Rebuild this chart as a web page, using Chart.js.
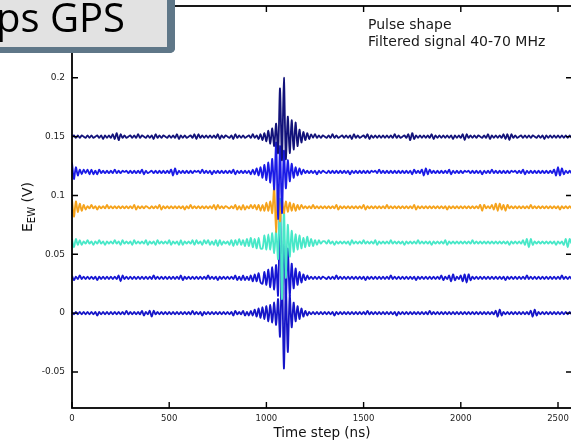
<!DOCTYPE html>
<html>
<head>
<meta charset="utf-8">
<script src="https://cdn.jsdelivr.net/npm/chart.js@4.4.0/dist/chart.umd.min.js"></script>
<style>
  html, body { margin: 0; padding: 0; background: #fff; overflow: hidden; }
  #wrap { position: relative; width: 600px; height: 444px; }
  #chart { position: absolute; left: 0; top: 0; }
  #slide {
    position: absolute; left: -10px; top: -10px; width: 177px; height: 57px;
    background: #e2e2e2; border-right: 8px solid #5f7788; border-bottom: 6px solid #5f7788;
    border-bottom-right-radius: 5px; z-index: 2;
  }
  #slide span {
    position: absolute; left: 6px; top: 6px; font: 40px/42px "Open Sans", sans-serif;
    color: #000; white-space: nowrap;
  }
  #note {
    position: absolute; left: 368px; top: 16px; font: 14px/17.4px "DejaVu Sans", sans-serif;
    color: #1a1a1a; white-space: nowrap;
  }
  #ytitle {
    position: absolute; left: 28px; top: 207px; font: 14px "DejaVu Sans", sans-serif;
    color: #111; white-space: nowrap; transform: translate(-50%, -50%) rotate(-90deg);
  }
  #ytitle sub { font-size: 10px; vertical-align: -3px; }
</style>
</head>
<body>
<div id="wrap">
  <canvas id="chart" width="600" height="444"></canvas>
  <div id="slide"><span>ps GPS</span></div>
  <div id="note">Pulse shape<br>Filtered signal 40-70 MHz</div>
  <div id="ytitle">E<sub>EW</sub> (V)</div>
</div>
<script>
// sampling step of the traces (ns)
const sampleStepNs = 10;

// trace baselines (mV)
const offsetsMV = [150, 120, 90, 60, 30, 0];

// deviations from baseline in mV, one row per 100 ns
const trace150 = [
  0,1,-1,1,-1,1,0,-1,1,-1,
  1,-1,0,1,-1,1,-2,1,-1,1,
  -1,2,-2,3,-3,2,-1,1,-1,0,
  1,-1,1,-1,2,-1,1,0,-1,1,
  -1,1,-2,2,-1,1,-1,1,0,-1,
  1,-1,1,-1,2,-2,1,-1,1,-1,
  0,1,-1,2,-2,2,-1,1,-1,1,
  -1,1,-1,1,-1,2,-2,1,-1,1,
  0,-1,1,-2,2,-1,1,-1,1,-1,
  0,1,-1,2,-1,1,-2,2,-3,3,
  -4,5,-6,7,-8,11,-14,41,-20,50,
  -19,17,-14,14,-11,12,-8,6,-5,4,
  -3,3,-2,2,-1,2,-1,1,-1,1,
  0,-1,1,-1,2,-1,1,-1,0,1,
  -1,1,-1,1,-2,2,-1,1,-1,0,
  1,-1,2,-2,1,-1,1,-1,1,-1,
  1,-1,1,-1,1,-1,2,-1,1,-1,
  0,1,-1,2,-3,3,-2,1,-1,1,
  -1,1,-1,1,-1,2,-2,1,-1,1,
  -1,1,-1,1,-1,1,-2,1,-1,1,
  -1,2,-3,2,-1,1,-1,1,-1,1,
  0,-1,1,-1,2,-2,1,-1,1,-1,
  1,-1,2,-2,2,-3,2,-1,1,-1,
  0,1,-1,1,-1,1,-1,1,0,-1,
  1,-1,1,-2,1,-1,1,-1,1,-1,
  1,-1,1,-1,1,-1,1,-1,1,0
];
const trace120 = [
  8,-6,4,-3,2,-2,2,-1,2,-2,
  2,-2,1,-2,2,-1,1,-1,1,-1,
  1,-1,2,-1,1,-1,1,0,1,-1,
  1,-1,1,-1,1,-1,2,-2,1,-1,
  0,1,-1,1,-1,1,-1,1,-1,1,
  -1,2,-3,3,-2,1,-1,1,-1,1,
  -1,1,-1,1,0,1,-1,2,-1,1,
  -1,1,-2,1,-1,1,-1,1,-1,1,
  -1,1,-1,2,-2,1,-1,1,-1,1,
  -1,1,-2,2,-2,3,-3,4,-5,6,
  -7,8,-9,11,-15,25,-40,22,-35,18,
  -14,10,-8,7,-5,4,-3,3,-2,2,
  -1,1,-1,1,-1,1,-2,1,-1,1,
  0,-1,1,-1,1,-1,1,-1,1,-1,
  1,-1,1,-2,1,-1,1,-1,1,-1,
  1,-1,1,-1,1,0,1,-1,2,-1,
  1,-1,1,-1,1,-1,1,-1,1,-1,
  1,-1,1,-1,1,-2,2,-1,1,-1,
  2,-3,3,-2,2,-1,1,-1,1,-1,
  1,-1,1,-1,2,-2,1,-1,1,-1,
  1,-1,1,0,1,-1,1,-1,1,-1,
  1,-2,1,-1,1,-1,2,-1,1,-1,
  1,-1,1,-1,1,-1,1,0,1,-1,
  1,-1,2,-2,1,-1,1,-1,1,-1,
  1,-1,1,-1,1,-1,1,-1,2,-3,
  4,-3,3,-2,1,-1,1,-1,1,-1
];
const trace90 = [
  7,-8,5,-4,3,-3,2,-2,1,-1,
  2,-1,1,-2,1,-1,1,-1,2,-1,
  1,-1,1,-1,1,-1,1,-1,1,-1,
  1,-1,2,-2,1,-1,1,-1,1,0,
  -1,1,-1,1,-1,2,-2,1,-1,1,
  -1,1,-1,1,-1,1,-1,1,-2,1,
  -1,2,-1,1,-1,1,-1,1,-1,1,
  -1,1,-1,2,-2,2,-1,1,-1,1,
  0,-1,1,-1,2,-2,1,-2,2,-2,
  1,-1,2,-1,2,-2,2,-3,2,-3,
  4,-3,5,-5,17,-21,15,-12,6,-5,
  5,-4,4,-3,3,-3,2,-2,2,-1,
  1,-1,1,-1,2,-1,1,-1,1,-1,
  1,-1,1,-1,1,-1,2,-2,1,-1,
  1,-1,1,-1,1,-1,1,-1,1,-1,
  2,-2,1,-1,1,-1,1,-1,1,-1,
  1,-1,2,-1,1,-1,1,-1,1,-1,
  1,-1,1,-1,1,-1,2,-2,1,-1,
  1,-1,1,-1,1,-1,1,-1,1,-1,
  1,-1,1,-2,1,-1,1,-1,1,-1,
  1,-1,1,-1,1,-1,1,-1,1,-1,
  2,-3,2,-1,1,-1,2,-2,3,-3,
  3,-2,2,-3,2,-1,1,-1,1,-1,
  1,-1,1,-1,1,-1,2,-1,1,-1,
  1,-1,1,-1,1,-1,1,-1,1,-1,
  1,-2,1,-1,1,-1,1,-1,1,-1
];
const trace60 = [
  3,-4,3,-2,2,-2,1,-1,2,-1,
  1,-2,1,-1,2,-1,1,-2,1,-1,
  1,-1,2,-1,1,-2,2,-1,1,-1,
  1,-2,2,-1,1,-1,1,-1,2,-2,
  1,-1,1,-2,2,-1,1,-1,1,-1,
  2,-2,1,-1,1,-2,2,-2,1,-1,
  1,-1,2,-2,2,-1,1,-2,2,-1,
  2,-2,1,-2,2,-3,2,-2,1,-1,
  1,-2,2,-3,2,-2,3,-2,2,-3,
  3,-3,4,-4,3,-5,4,-5,-5,6,
  -6,7,-6,8,-9,10,-14,37,-48,30,
  -30,15,-12,10,-8,7,-6,6,-5,4,
  -4,5,-3,3,-3,2,-2,2,-1,1,
  1,-1,2,-1,1,-2,1,-1,1,-1,
  1,-1,1,-2,2,-1,1,-1,1,-1,
  2,-1,1,-1,1,-1,2,-2,1,-1,
  1,-1,1,-1,2,-1,1,-1,1,-1,
  1,-2,1,-1,1,-1,1,-1,2,-1,
  1,-1,1,-1,1,-2,1,-1,1,-1,
  1,-1,2,-2,1,-1,1,-1,1,-1,
  1,-1,1,-1,1,-1,2,-1,1,-1,
  1,-1,1,-1,1,-1,1,-1,1,-1,
  1,-1,1,-1,1,-2,1,-1,1,-1,
  1,-1,2,-2,3,-4,3,-2,1,-1,
  1,-1,1,-1,1,-1,1,-1,1,-2,
  1,-1,1,-2,3,-4,3,-1,1,-1
];
const trace30 = [
  2,-2,1,-1,2,-1,1,-1,1,-1,
  1,-1,1,-2,1,-1,1,-1,1,-1,
  1,-1,1,-1,2,-3,2,-1,1,-1,
  1,-1,1,-1,1,-1,1,-1,1,-1,
  1,-1,2,-1,1,-1,1,-1,1,-1,
  1,-1,1,-1,1,-1,2,-2,1,-1,
  1,-1,1,-1,1,-1,1,-1,1,-1,
  2,-1,1,-1,1,-2,1,-1,1,-1,
  1,-1,1,-1,2,-2,1,-2,2,-2,
  1,-2,2,-3,3,-3,4,-4,-5,5,
  -6,7,-8,9,-10,11,-15,62,-20,35,
  -18,25,-15,12,-9,8,-6,5,-4,3,
  -2,2,-1,1,-1,1,-1,1,-1,1,
  0,-1,1,-1,1,-1,2,-1,1,-1,
  1,-1,1,-1,1,-1,1,-1,1,-1,
  1,-2,1,-1,1,-1,1,-1,1,-1,
  1,-1,1,-1,2,-1,1,-1,1,-1,
  1,-1,1,-1,1,-1,1,-2,1,-1,
  1,-1,1,-1,1,-1,1,-1,1,-1,
  2,-2,1,-1,2,-3,3,-2,1,-1,
  2,-3,3,-4,3,-2,1,-1,1,-1,
  1,-1,1,-1,1,-1,1,-1,1,-1,
  1,-1,1,-2,1,-1,1,-1,1,-1,
  1,-1,1,-1,2,-1,1,-1,1,-1,
  1,-1,1,-1,1,-1,1,-1,1,-1,
  1,-1,2,-1,1,-1,1,-1,1,-1
];
const trace0 = [
  1,-1,1,-1,1,-1,1,-1,1,-1,
  1,-1,1,-2,1,-1,1,-1,1,-1,
  1,-1,1,-1,1,-1,1,-1,2,-1,
  1,-1,1,-1,1,-1,2,-2,1,-1,
  2,-3,2,-1,1,-1,1,-1,1,-1,
  1,-1,1,-1,1,-1,1,-1,1,-1,
  1,-1,2,-1,1,-1,1,-2,1,-1,
  1,-1,1,-1,1,-1,1,-1,1,-1,
  1,-1,1,-2,2,-1,1,-1,2,-2,
  1,-2,2,-2,3,-3,4,-4,5,-5,
  6,-7,7,-8,9,-10,12,-20,38,-47,
  22,-33,15,-12,9,-7,6,-5,4,-3,
  2,-2,1,-1,1,-1,1,-1,1,-1,
  1,-1,1,-1,1,-2,1,-1,1,-1,
  1,-1,1,-1,1,-1,1,-1,1,-1,
  1,-1,2,-1,1,-1,1,-1,1,-1,
  1,-1,1,-1,1,-1,1,-2,1,-1,
  1,-1,1,-1,1,-1,1,-1,1,-1,
  1,-1,1,-1,2,-1,1,-1,1,-1,
  1,-1,1,-1,1,-1,1,-1,1,-1,
  1,-1,1,-1,1,-1,1,-1,1,-1,
  1,-1,1,-1,1,-1,1,-1,2,-3,
  3,-2,1,-1,1,-1,1,-1,1,-1,
  1,-1,1,-1,1,-1,2,-3,3,-2,
  1,-1,1,-1,1,-1,1,-1,1,-1,
  1,-1,1,-1,1,-1,1,-1,1,-1
];

const traces = [trace150, trace120, trace90, trace60, trace30, trace0];
const colors = ['#12127a', '#1a1ae6', '#f5a31c', '#48e8c8', '#1616d2', '#1616c8'];

const xTicks = [0, 500, 1000, 1500, 2000, 2500];
const yTicks = [-0.05, 0, 0.05, 0.1, 0.15, 0.2];

// first dataset is drawn on top in Chart.js, so the top trace goes first
const datasets = traces.map((tr, k) => ({
  data: tr.map((v, i) => ({ x: i * sampleStepNs, y: (offsetsMV[k] + v) / 1000 })),
  borderColor: colors[k],
  borderWidth: 1.8,
  pointRadius: 0,
  tension: 0.3,
  fill: false
}));

// box around the plot with inward ticks on all four sides
const frame = {
  id: 'frame',
  afterDatasetsDraw(chart) {
    const { ctx, chartArea: a, scales: { x, y } } = chart;
    ctx.save();
    ctx.strokeStyle = '#000';
    ctx.lineWidth = 1.8;
    ctx.strokeRect(a.left, a.top, a.right - a.left, a.bottom - a.top);
    ctx.lineWidth = 1.4;
    ctx.beginPath();
    xTicks.forEach(v => {
      const px = x.getPixelForValue(v);
      ctx.moveTo(px, a.bottom); ctx.lineTo(px, a.bottom - 6);
      ctx.moveTo(px, a.top); ctx.lineTo(px, a.top + 6);
    });
    yTicks.forEach(v => {
      const py = y.getPixelForValue(v);
      ctx.moveTo(a.left, py); ctx.lineTo(a.left + 6, py);
      ctx.moveTo(a.right, py); ctx.lineTo(a.right - 6, py);
    });
    ctx.stroke();
    ctx.restore();
  }
};

new Chart(document.getElementById('chart'), {
  type: 'line',
  data: { datasets },
  options: {
    responsive: false,
    animation: false,
    parsing: false,
    layout: { padding: { top: 6, right: 28, left: 0, bottom: 0 } },
    plugins: { legend: { display: false }, tooltip: { enabled: false } },
    scales: {
      x: {
        type: 'linear', min: 0, max: 2572,
        afterFit(s) { s.height = 36; s.paddingLeft = 0; s.paddingRight = 0; },
        grid: { display: false, drawTicks: false },
        border: { display: false },
        afterBuildTicks(s) { s.ticks = xTicks.map(v => ({ value: v })); },
        ticks: {
          padding: 6, color: '#222', maxRotation: 0,
          font: { family: 'DejaVu Sans', size: 8.5 },
          callback: v => String(v)
        },
        title: {
          display: true, text: 'Time step (ns)', color: '#111',
          font: { family: 'DejaVu Sans', size: 13.5 },
          padding: { top: 0, bottom: 2 }
        }
      },
      y: {
        type: 'linear', min: -0.0806, max: 0.261,
        afterFit(s) { s.width = 72; s.paddingTop = 0; s.paddingBottom = 0; },
        grid: { display: false, drawTicks: false },
        border: { display: false },
        afterBuildTicks(s) { s.ticks = yTicks.map(v => ({ value: v })); },
        ticks: {
          padding: 7, color: '#222',
          font: { family: 'DejaVu Sans', size: 9 },
          callback: v => String(+v.toFixed(3))
        }
      }
    }
  },
  plugins: [frame]
});
</script>
</body>
</html>
